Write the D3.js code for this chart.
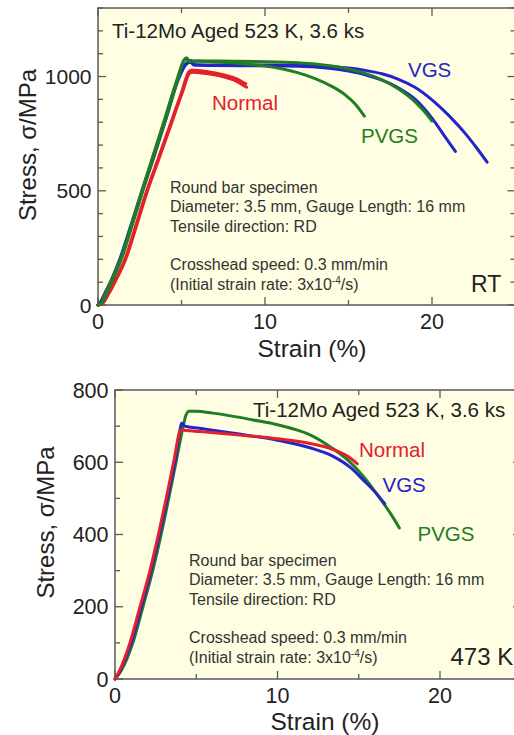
<!DOCTYPE html>
<html>
<head>
<meta charset="utf-8">
<script src="https://cdn.jsdelivr.net/npm/d3@7"></script>
<style>
  body { margin: 0; background: #fff; }
  svg { display: block; font-family: "Liberation Sans", Arial, sans-serif; }
</style>
</head>
<body>
<div id="chart"></div>
<script>
// ---- data (strain %, stress MPa) ----
const xTickLabels = [0, 10, 20];
const rtYTickLabels = [0, 500, 1000];
const hotYTickLabels = [0, 200, 400, 600, 800];

// Room temperature, two specimens per condition
const rtNormal1 = [[0,0],[0.2,4],[0.6,48],[1.0,105],[1.6,198],[2.25,345],[2.9,497],[3.6,640],[4.3,785],[5.0,930],[5.45,1022],[5.6,1027],[6.5,1022],[7.5,1008],[8.3,990],[8.85,968]];
const rtNormal2 = [[0,0],[0.25,5],[0.65,50],[1.05,105],[1.65,198],[2.3,345],[2.95,497],[3.65,640],[4.35,785],[5.05,930],[5.5,1016],[5.65,1019],[6.5,1013],[7.5,999],[8.3,979],[8.9,953]];
const rtVgs1 = [[0,0],[0.15,8],[0.45,50],[0.85,110],[1.35,200],[2.0,345],[2.7,505],[3.4,660],[4.1,820],[4.8,985],[5.3,1055],[5.55,1062],[5.75,1050],[7,1048],[10,1047],[12,1045],[13,1042],[14,1035],[15,1024],[16,1008],[17,984],[18,950],[19,900],[20,818],[20.7,745],[21.4,672]];
const rtVgs2 = [[0,0],[0.1,8],[0.4,50],[0.8,110],[1.3,200],[1.95,345],[2.65,505],[3.35,660],[4.05,820],[4.75,985],[5.25,1055],[5.6,1070],[5.8,1052],[7,1050],[10,1050],[12,1049],[13,1047],[14,1043],[15,1037],[16,1027],[17,1012],[18,988],[19,952],[20,898],[21,830],[22,750],[22.7,685],[23.3,625]];
const rtPvgs1 = [[0,0],[0.2,10],[0.45,50],[0.85,115],[1.35,200],[2.0,350],[2.65,505],[3.3,655],[4.0,815],[4.7,980],[5.15,1072],[5.3,1082],[5.45,1065],[5.8,1068],[7,1064],[8,1060],[9,1054],[10,1046],[11,1034],[12,1016],[13,991],[14,957],[14.8,920],[15.4,880],[15.95,827]];
const rtPvgs2 = [[0,0],[0.25,10],[0.5,50],[0.9,115],[1.4,200],[2.05,350],[2.7,505],[3.35,655],[4.05,815],[4.75,980],[5.2,1075],[5.35,1078],[5.5,1066],[6,1068],[8,1067],[10,1065],[12,1060],[13,1055],[14,1046],[15,1033],[16,1014],[17,986],[18,945],[19,888],[19.5,850],[20,805]];

// 473 K
const hotNormal = [[0,0],[0.3,25],[0.6,58],[0.92,100],[1.54,200],[2.15,300],[2.67,400],[3.2,510],[3.65,610],[3.95,680],[4.05,690],[4.4,688],[5.2,685],[7.3,677],[10,665],[12,652],[13.4,636],[14.3,617],[14.9,596]];
const hotVgs = [[0,0],[0.35,25],[0.65,58],[1.0,100],[1.62,200],[2.22,300],[2.74,400],[3.27,510],[3.72,610],[4.0,690],[4.1,708],[4.3,700],[5.2,694],[7.3,680],[10,661],[12,640],[13.4,617],[14.5,585],[15.3,550],[16.0,518],[16.6,485]];
const hotPvgs = [[0,0],[0.4,25],[0.75,58],[1.1,100],[1.72,200],[2.32,300],[2.84,400],[3.35,510],[3.8,610],[4.15,690],[4.35,728],[4.55,741],[5,741],[6,736],[7.3,727],[8.5,717],[10,704],[11,692],[12,676],[13.4,638],[14.3,607],[15.3,560],[16.3,500],[17.0,455],[17.5,418]];

const noteLines = ["Round bar specimen", "Diameter: 3.5 mm, Gauge Length: 16 mm", "Tensile direction: RD", "", "Crosshead speed: 0.3 mm/min"];
const titleText = "Ti-12Mo Aged 523 K, 3.6 ks";

const RED = "#e3202b", BLUE = "#2424cc", GREEN = "#1f7d24";

const width = 514, height = 735;
const svg = d3.select("#chart").append("svg")
    .attr("width", width)
    .attr("height", height);

function drawPanel(cfg)
{
    const x = d3.scaleLinear().domain([0, 25]).range([cfg.left, cfg.right]);
    const y = d3.scaleLinear().domain([0, cfg.yMax]).range([cfg.bottom, cfg.top]);
    const g = svg.append("g");

    g.append("rect")
        .attr("x", cfg.left).attr("y", cfg.top)
        .attr("width", cfg.right - cfg.left)
        .attr("height", cfg.bottom - cfg.top)
        .attr("fill", "#fffee2")
        .attr("stroke", "#5a5a5a")
        .attr("stroke-width", 1.5);

    // inward ticks on all four sides
    const yMinor = d3.range(0, cfg.yMax + 1, 100);
    const xMinor = d3.range(0, 26, 5);
    const tk = g.append("g").attr("stroke", "#5a5a5a").attr("stroke-width", 1.3);
    yMinor.forEach(v => {
        const len = v % cfg.yMajor === 0 ? 8 : 5;
        tk.append("line").attr("x1", cfg.left).attr("x2", cfg.left + len).attr("y1", y(v)).attr("y2", y(v));
        tk.append("line").attr("x1", cfg.right).attr("x2", cfg.right - len).attr("y1", y(v)).attr("y2", y(v));
    });
    xMinor.forEach(v => {
        const len = v % 10 === 0 ? 8 : 5;
        tk.append("line").attr("x1", x(v)).attr("x2", x(v)).attr("y1", cfg.bottom).attr("y2", cfg.bottom - len);
        tk.append("line").attr("x1", x(v)).attr("x2", x(v)).attr("y1", cfg.top).attr("y2", cfg.top + len);
    });

    g.selectAll(".ylab")
        .data(cfg.yLabels)
        .enter().append("text")
        .attr("x", cfg.left - 6.5)
        .attr("y", d => y(d))
        .attr("dy", "0.36em")
        .attr("text-anchor", "end")
        .attr("font-size", cfg.tickSize)
        .attr("fill", "#222")
        .text(d => d);

    g.selectAll(".xlab")
        .data(xTickLabels)
        .enter().append("text")
        .attr("x", d => x(d))
        .attr("y", cfg.bottom + 24)
        .attr("text-anchor", "middle")
        .attr("font-size", 21.5)
        .attr("fill", "#222")
        .text(d => d);

    g.append("text")
        .attr("x", cfg.xTitle[0]).attr("y", cfg.xTitle[1])
        .attr("text-anchor", "middle")
        .attr("font-size", 24.5)
        .attr("fill", "#222")
        .text("Strain (%)");

    g.append("text")
        .attr("transform", `translate(${cfg.yTitle[0]},${cfg.yTitle[1]}) rotate(-90)`)
        .attr("text-anchor", "middle")
        .attr("font-size", 24)
        .attr("fill", "#222")
        .text("Stress, \u03c3/MPa");

    const line = d3.line()
        .x(d => x(d[0]))
        .y(d => y(d[1]))
        .curve(d3.curveMonotoneX);

    g.selectAll(".curve")
        .data(cfg.curves)
        .enter().append("path")
        .attr("d", d => line(d.values))
        .attr("fill", "none")
        .attr("stroke", d => d.color)
        .attr("stroke-width", 3)
        .attr("stroke-linejoin", "round")
        .attr("stroke-linecap", "round");

    g.append("text")
        .attr("x", cfg.title[0]).attr("y", cfg.title[1])
        .attr("font-size", 20.5)
        .attr("fill", "#222")
        .text(titleText);

    cfg.labels.forEach(l => {
        g.append("text")
            .attr("x", l.x).attr("y", l.y)
            .attr("font-size", l.size || 20.5)
            .attr("fill", l.color)
            .text(l.text);
    });

    // specimen notes
    const note = g.append("text")
        .attr("font-size", 16)
        .attr("fill", "#333");
    noteLines.forEach((t, i) => {
        note.append("tspan")
            .attr("x", cfg.note[0])
            .attr("y", cfg.note[1] + i * 19.3)
            .text(t);
    });
    const last = note.append("tspan")
        .attr("x", cfg.note[0])
        .attr("y", cfg.note[1] + 5 * 19.3);
    last.text("(Initial strain rate: 3x10");
    note.append("tspan").attr("dy", -6).attr("font-size", 10).text("-4");
    note.append("tspan").attr("dy", 6).text("/s)");
}

drawPanel({
    left: 98, right: 515.5, top: 8, bottom: 305, yMax: 1300, yMajor: 500,
    yLabels: rtYTickLabels, tickSize: 21,
    xTitle: [312, 357], yTitle: [35.5, 145],
    title: [112, 38], note: [170, 193],
    curves: [
        {values: rtNormal1, color: RED}, {values: rtNormal2, color: RED},
        {values: rtVgs1, color: BLUE}, {values: rtVgs2, color: BLUE},
        {values: rtPvgs1, color: GREEN}, {values: rtPvgs2, color: GREEN}
    ],
    labels: [
        {text: "Normal", x: 212, y: 110, color: RED},
        {text: "VGS", x: 408, y: 77, color: BLUE},
        {text: "PVGS", x: 361, y: 143, color: GREEN},
        {text: "RT", x: 471, y: 292, color: "#222", size: 23}
    ]
});

drawPanel({
    left: 115, right: 521.25, top: 390, bottom: 679, yMax: 800, yMajor: 200,
    yLabels: hotYTickLabels, tickSize: 21.5,
    xTitle: [325, 730], yTitle: [53.5, 522.5],
    title: [253, 417], note: [189, 566],
    curves: [
        {values: hotPvgs, color: GREEN},
        {values: hotVgs, color: BLUE},
        {values: hotNormal, color: RED}
    ],
    labels: [
        {text: "Normal", x: 359, y: 456.5, color: RED},
        {text: "VGS", x: 382.5, y: 491.5, color: BLUE},
        {text: "PVGS", x: 417.5, y: 541, color: GREEN},
        {text: "473 K", x: 450.5, y: 665, color: "#222", size: 24}
    ]
});
</script>
</body>
</html>
